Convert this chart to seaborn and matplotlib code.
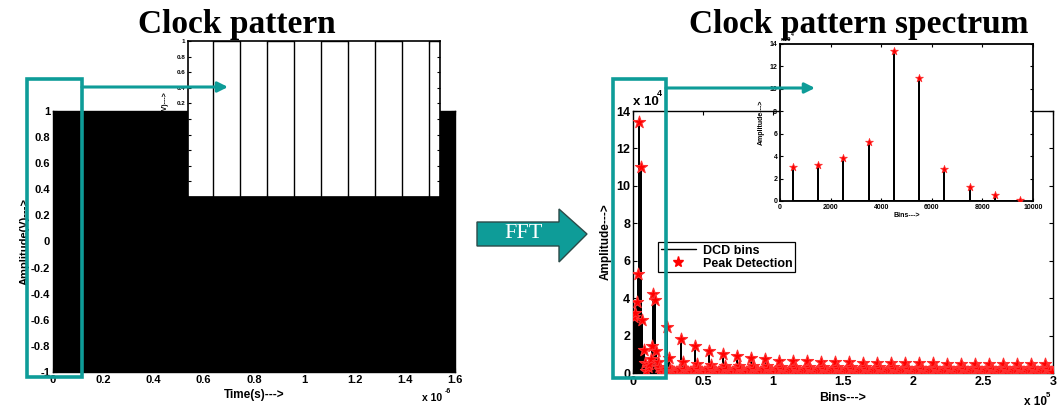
import numpy as np
import pandas as pd
import matplotlib
matplotlib.use("Agg")
import matplotlib.pyplot as plt
import seaborn as sns
from matplotlib.patches import Rectangle, Polygon, FancyArrowPatch
from matplotlib.ticker import FuncFormatter, MultipleLocator
from matplotlib.lines import Line2D

# ---------------- clock waveform ----------------
clock_levels = [-1, 1]           # V
clock_half_period = 1e-9         # s
clock_duration = 1.6e-6          # s
zoom_window = [0.07e-9, 9.4e-9]  # s, detail view

# ---------------- spectrum (amplitudes in units of 1e4) ----------------
block_width = 10000
block_offsets = [500, 1500, 2500, 3500, 4500, 5500, 6500, 7500, 8500, 9500]
block0_amp = [3.0, 3.2, 3.8, 5.3, 13.4, 11.0, 2.85, 1.25, 0.55, 0.1]
block1_amp = [0.3, 0.5, 0.75, 1.44, 4.22, 3.9, 1.17, 0.6, 0.3, 0.15]
# blocks 2..29: strongest line, its neighbour, and the low side bins
main_peak = [2.44, 1.8, 1.44, 1.18, 1.0, 0.9, 0.8, 0.73, 0.66, 0.63,
             0.62, 0.6, 0.59, 0.57, 0.56, 0.55, 0.54, 0.53, 0.52, 0.51,
             0.5, 0.5, 0.49, 0.48, 0.48, 0.47, 0.47, 0.46]
neighbour_peak = [0.78, 0.6, 0.5, 0.45, 0.4, 0.38, 0.36, 0.35, 0.34, 0.33,
                  0.32, 0.32, 0.31, 0.31, 0.3, 0.3, 0.3, 0.29, 0.29, 0.29,
                  0.28, 0.28, 0.28, 0.28, 0.27, 0.27, 0.27, 0.27]
side_amp = [0.04, 0.08, 0.14, 0.24, 0.2, 0.12, 0.07, 0.03]  # offsets 500..3500, 6500..9500

TEAL = "#0e9c98"
W, H = 1057, 407


def fx(px):
    return px / W


def fy(py):
    return 1 - py / H


def axes_rect(left, top, right, bottom):
    return [fx(left), fy(bottom), (right - left) / W, (bottom - top) / H]


# ---------------- build tables ----------------
n_half = int(round(clock_duration / clock_half_period))
edges = np.arange(n_half + 1) * clock_half_period
lvl = np.array([clock_levels[i % 2] for i in range(n_half)], dtype=float)
clock = pd.DataFrame({
    "t": np.repeat(edges, 2)[1:-1],
    "v": np.repeat(lvl, 2),
})

bins, amps = [], []
for off, a in zip(block_offsets, block0_amp):
    bins.append(off); amps.append(a)
for off, a in zip(block_offsets, block1_amp):
    bins.append(block_width + off); amps.append(a)
side_offsets = block_offsets[:4] + block_offsets[6:]
for k, (pk, nb) in enumerate(zip(main_peak, neighbour_peak), start=2):
    base = k * block_width
    bins.append(base + block_offsets[4]); amps.append(pk)
    bins.append(base + block_offsets[5]); amps.append(nb)
    for off, a in zip(side_offsets, side_amp):
        bins.append(base + off); amps.append(a)
spec = pd.DataFrame({"bin": bins, "amp": np.array(amps) * 1e4}).sort_values("bin")

stem = pd.DataFrame({
    "bin": np.repeat(spec["bin"].values, 3),
    "amp": np.column_stack([np.zeros(len(spec)), spec["amp"].values,
                            np.zeros(len(spec))]).ravel(),
})
spec_zoom = spec[spec["bin"] < block_width]
stem_zoom = stem[stem["bin"] < block_width]

# ---------------- style ----------------
sns.set_theme(style="ticks")
plt.rcParams["font.family"] = ["Liberation Sans", "DejaVu Sans"]
plt.rcParams["font.weight"] = "bold"
plt.rcParams["axes.labelweight"] = "bold"
for key in ["text.color", "axes.labelcolor", "xtick.color", "ytick.color",
            "axes.edgecolor"]:
    plt.rcParams[key] = "black"


def matlab_box(ax, size, lw=1.0, length=3):
    for s in ax.spines.values():
        s.set_visible(True)
        s.set_linewidth(lw)
        s.set_color("black")
    ax.tick_params(direction="in", top=True, right=True, length=length,
                   width=0.8, labelsize=size, pad=2, colors="black")
    ax.set_facecolor("white")
    ax.grid(False)


fig = plt.figure(figsize=(W / 100, H / 100), dpi=100)

# ---------------- left: clock pattern ----------------
axL = fig.add_axes(axes_rect(53, 111, 455, 372))
sns.lineplot(data=clock, x="t", y="v", estimator=None, sort=False,
             color="black", linewidth=1.0, ax=axL)
axL.set_xlim(0, clock_duration)
axL.set_ylim(-1, 1)
axL.xaxis.set_major_locator(MultipleLocator(0.2e-6))
axL.yaxis.set_major_locator(MultipleLocator(0.2))
axL.xaxis.set_major_formatter(FuncFormatter(lambda v, _: f"{round(v * 1e6, 6):g}"))
axL.yaxis.set_major_formatter(FuncFormatter(lambda v, _: f"{round(v, 6):g}"))
matlab_box(axL, 8)
axL.set_xlabel("Time(s)--->", fontsize=8.5, labelpad=3)
axL.set_ylabel("Amplitude(V)--->", fontsize=8, labelpad=1)
fig.text(fx(422), fy(401), "x 10", fontsize=7.5, weight="bold", va="baseline")
fig.text(fx(445), fy(393), "-6", fontsize=5, weight="bold", va="baseline")

axLi = fig.add_axes(axes_rect(188, 41, 440, 197))
sns.lineplot(data=clock[clock["t"] < 12e-9], x="t", y="v", estimator=None,
             sort=False, color="black", linewidth=1.0, ax=axLi)
axLi.set_xlim(*zoom_window)
axLi.set_ylim(-1, 1)
axLi.xaxis.set_major_locator(MultipleLocator(3e-9))
axLi.yaxis.set_major_locator(MultipleLocator(0.2))
axLi.yaxis.set_major_formatter(FuncFormatter(lambda v, _: f"{round(v, 6):g}"))
matlab_box(axLi, 4.5, lw=1.2, length=2.5)
axLi.set_xticklabels([])
axLi.set_xlabel("")
axLi.set_ylabel("Amplitude(V)--->", fontsize=5, labelpad=4)

# ---------------- right: spectrum ----------------
axR = fig.add_axes(axes_rect(633, 111, 1053, 373))
sns.lineplot(data=stem, x="bin", y="amp", estimator=None, sort=False,
             color="black", linewidth=1.4, ax=axR)
sns.scatterplot(data=spec, x="bin", y="amp", marker="*", color="red",
                edgecolor="#ff3030", linewidth=0.8, s=85, zorder=3, ax=axR)
axR.set_xlim(0, 3e5)
axR.set_ylim(0, 14e4)
axR.xaxis.set_major_locator(MultipleLocator(0.5e5))
axR.yaxis.set_major_locator(MultipleLocator(2e4))
axR.xaxis.set_major_formatter(FuncFormatter(lambda v, _: f"{round(v / 1e5, 6):g}"))
axR.yaxis.set_major_formatter(FuncFormatter(lambda v, _: f"{round(v / 1e4, 6):g}"))
matlab_box(axR, 9)
axR.set_xlabel("Bins--->", fontsize=9, labelpad=3)
axR.set_ylabel("Amplitude--->", fontsize=8.5, labelpad=3)
fig.text(fx(633), fy(105), "x 10", fontsize=9.5, weight="bold", va="baseline")
fig.text(fx(657), fy(96), "4", fontsize=6.5, weight="bold", va="baseline")
fig.text(fx(1024), fy(405), "x 10", fontsize=8.5, weight="bold", va="baseline")
fig.text(fx(1046), fy(397), "5", fontsize=5.5, weight="bold", va="baseline")

handles = [Line2D([], [], color="black", lw=1.0),
           Line2D([], [], color="red", marker="*", ls="none", ms=8)]
leg = axR.legend(handles, ["DCD bins", "Peak Detection"], loc="upper left",
                 bbox_to_anchor=((658 - 633) / 420, (373 - 242) / 262),
                 fontsize=9, frameon=True, fancybox=False, framealpha=1,
                 edgecolor="black", borderpad=0.2, labelspacing=0.1,
                 handlelength=2.8, handletextpad=0.6, borderaxespad=0)
leg.get_frame().set_linewidth(0.9)

axRi = fig.add_axes(axes_rect(780, 44, 1033, 201))
sns.lineplot(data=stem_zoom, x="bin", y="amp", estimator=None, sort=False,
             color="black", linewidth=1.4, ax=axRi)
sns.scatterplot(data=spec_zoom, x="bin", y="amp", marker="*", color="red",
                edgecolor="#ff3030", linewidth=0.5, s=35, zorder=3, ax=axRi)
axRi.set_xlim(0, 10000)
axRi.set_ylim(0, 14e4)
axRi.xaxis.set_major_locator(MultipleLocator(2000))
axRi.yaxis.set_major_locator(MultipleLocator(2e4))
axRi.xaxis.set_major_formatter(FuncFormatter(lambda v, _: f"{v:g}"))
axRi.yaxis.set_major_formatter(FuncFormatter(lambda v, _: f"{round(v / 1e4, 6):g}"))
matlab_box(axRi, 5, lw=1.3, length=2.5)
axRi.set_xlabel("Bins--->", fontsize=5, labelpad=1)
axRi.set_ylabel("Amplitude--->", fontsize=5, labelpad=3)
fig.text(fx(781), fy(41), "x10", fontsize=4.5, weight="bold", va="baseline")
fig.text(fx(791), fy(36), "4", fontsize=3.5, weight="bold", va="baseline")

# ---------------- titles ----------------
fig.text(fx(237), fy(33), "Clock pattern", family="Liberation Serif",
         weight="bold", fontsize=24, ha="center", va="baseline", color="black")
fig.text(fx(859), fy(33), "Clock pattern spectrum", family="Liberation Serif",
         weight="bold", fontsize=24, ha="center", va="baseline", color="black")

# ---------------- zoom markers and arrows ----------------
for (l, t, r, b), (x0, x1, ya) in [((27, 79, 82, 377), (82, 228, 87)),
                                   ((613, 79, 666, 378), (666, 815, 88))]:
    fig.add_artist(Rectangle((fx(l), fy(b)), (r - l) / W, (b - t) / H,
                             transform=fig.transFigure, fill=False,
                             edgecolor=TEAL, linewidth=2.6, zorder=5))
    fig.add_artist(FancyArrowPatch((fx(x0), fy(ya)), (fx(x1), fy(ya)),
                                   transform=fig.transFigure,
                                   arrowstyle="-|>,head_length=6,head_width=3",
                                   color=TEAL, linewidth=2.2, shrinkA=0,
                                   shrinkB=0, zorder=5))

fft_shape = [(477, 222), (559, 222), (559, 209), (587, 234), (559, 262),
             (559, 246), (477, 246)]
fig.add_artist(Polygon([(fx(x), fy(y)) for x, y in fft_shape], closed=True,
                       transform=fig.transFigure, facecolor=TEAL,
                       edgecolor="#2b4a48", linewidth=1.0, zorder=5))
fig.text(fx(524), fy(234), "FFT", family="Liberation Serif", weight="normal",
         fontsize=16, color="white", ha="center", va="center", zorder=6)

fig.savefig("out.png", dpi=100)
